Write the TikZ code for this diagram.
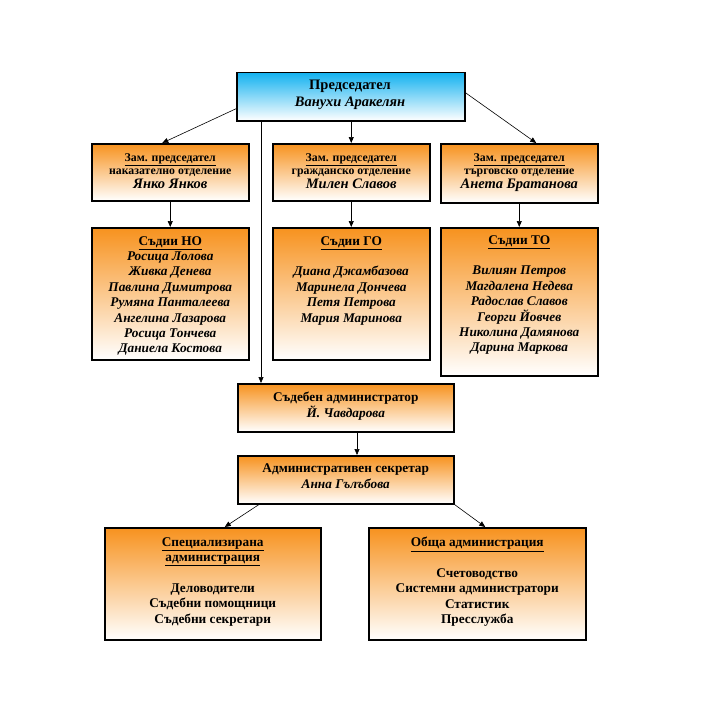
\documentclass[tikz,border=0pt]{standalone}
\usepackage{fontspec}
\setmainfont{Liberation Serif}
\usetikzlibrary{arrows.meta}
\definecolor{orng}{RGB}{247,146,30}
\definecolor{cyanb}{RGB}{20,178,240}
\tikzset{
  box/.style={draw=black, line width=1.5pt, top color=orng, bottom color=white, anchor=north west, inner sep=0pt},
  cbox/.style={box, top color=cyanb},
  txt/.style={anchor=north, inner sep=0pt, align=center, font=\bfseries\fontsize{13.3}{15.4}\selectfont},
  arr/.style={-{Triangle[length=6pt,width=5pt]}, line width=0.6pt},
}
\newcommand{\nm}[1]{\textit{#1}}
\begin{document}
\begin{tikzpicture}[x=1pt,y=-1pt]
\useasboundingbox[fill=white] (0,0) rectangle (718,709);
% boxes
\node[cbox, minimum width=228pt, minimum height=48pt] (ch) at (236,72) {};
\node[box, minimum width=157pt, minimum height=57pt] (dNO) at (91,143) {};
\node[box, minimum width=157pt, minimum height=57pt] (dGO) at (272,143) {};
\node[box, minimum width=157pt, minimum height=59pt] (dTO) at (440,143) {};
\node[box, minimum width=157pt, minimum height=132pt] (jNO) at (91,227) {};
\node[box, minimum width=157pt, minimum height=132pt] (jGO) at (272,227) {};
\node[box, minimum width=157pt, minimum height=148pt] (jTO) at (440,227) {};
\node[box, minimum width=216pt, minimum height=48pt] (ca) at (237,383) {};
\node[box, minimum width=216pt, minimum height=48pt] (as) at (237,455) {};
\node[box, minimum width=216pt, minimum height=112pt] (sp) at (104,527) {};
\node[box, minimum width=217pt, minimum height=112pt] (ga) at (368,527) {};
% texts
\node[txt, font=\bfseries\fontsize{14.5}{17}\selectfont] (tch) at (350,80) {Председател\\ \nm{Ванухи Аракелян}};
\node[txt, font=\bfseries\fontsize{11.8}{13}\selectfont] (tdNO) at (dNO.north |- 0,153) {\underline{Зам. председател}\\ наказателно отделение\\[1.5pt] {\fontsize{14.5}{17}\selectfont\nm{Янко Янков}}};
\node[txt, font=\bfseries\fontsize{11.8}{13}\selectfont] (tdGO) at (dGO.north |- 0,153) {\underline{Зам. председател}\\ гражданско отделение\\[1.5pt] {\fontsize{14.5}{17}\selectfont\nm{Милен Славов}}};
\node[txt, font=\bfseries\fontsize{11.8}{13}\selectfont] (tdTO) at (dTO.north |- 0,153) {\underline{Зам. председател}\\ търговско отделение\\[1.5pt] {\fontsize{14.5}{17}\selectfont\nm{Анета Братанова}}};
\node[txt] (tjNO) at (jNO.north |- 0,236) {\underline{Съдии НО}\\ \nm{Росица Лолова}\\ \nm{Живка Денева}\\ \nm{Павлина Димитрова}\\ \nm{Румяна Панталеева}\\ \nm{Ангелина Лазарова}\\ \nm{Росица Тончева}\\ \nm{Даниела Костова}};
\node[txt] (tjGO) at (jGO.north |- 0,236) {\underline{Съдии ГО}\\[15.4pt] \nm{Диана Джамбазова}\\ \nm{Маринела Дончева}\\ \nm{Петя Петрова}\\ \nm{Мария Маринова}};
\node[txt] (tjTO) at (jTO.north |- 0,235) {\underline{Съдии ТО}\\[15.4pt] \nm{Вилиян Петров}\\ \nm{Магдалена Недева}\\ \nm{Радослав Славов}\\ \nm{Георги Йовчев}\\ \nm{Николина Дамянова}\\ \nm{Дарина Маркова}};
\node[txt] (tca) at (ca.north |- 0,392) {Съдебен администратор\\ \nm{Й. Чавдарова}};
\node[txt] (tas) at (as.north |- 0,464) {Административен секретар\\ \nm{Анна Гълъбова}};
\node[txt] (tsp) at (sp.north |- 0,537) {\underline{Специализирана}\\ \underline{администрация}\\[15.4pt] Деловодители\\ Съдебни помощници\\ Съдебни секретари};
\node[txt] (tga) at (ga.north |- 0,537) {\underline{Обща администрация}\\[15.4pt] Счетоводство\\ Системни администратори\\ Статистик\\ Пресслужба};
% connectors
\draw[arr] ([yshift=-12pt]ch.west) -- ([xshift=-8pt]dNO.north);
\draw[arr] (dGO.north |- ch.south) -- (dGO.north);
\draw[arr] ([yshift=4pt]ch.east) -- ([xshift=17pt]dTO.north);
\draw[arr] (dNO.south) -- (jNO.north);
\draw[arr] (dGO.south) -- (jGO.north);
\draw[arr] (dTO.south) -- (jTO.north);
\draw[arr] (261,0 |- ch.south) -- (261,0 |- ca.north);
\draw[arr] (ca.south -| 357,0) -- (as.north -| 357,0);
\draw[arr] ([xshift=22pt]as.south west) -- ([xshift=12pt]sp.north);
\draw[arr] (as.south east) -- ([xshift=8pt]ga.north);
\end{tikzpicture}
\end{document}
